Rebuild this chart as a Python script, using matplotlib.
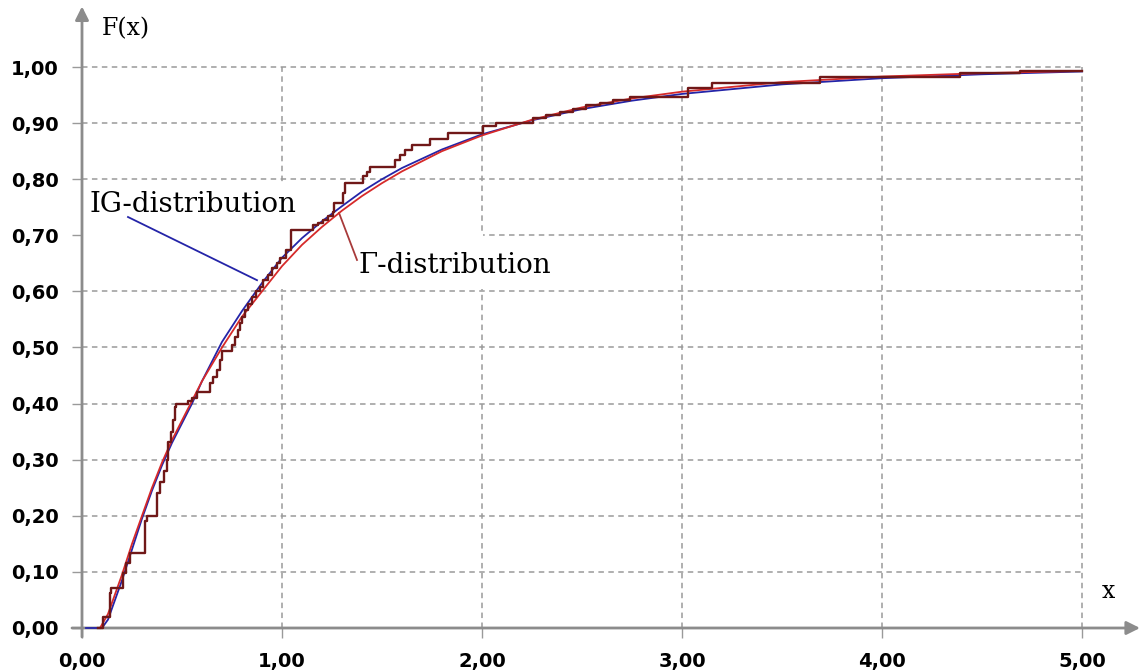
import matplotlib.pyplot as plt
from matplotlib.patches import Rectangle
from matplotlib.ticker import FuncFormatter, MultipleLocator

# IG-distribution curve
ig_x = [0.02, 0.10, 0.13, 0.16, 0.20, 0.25, 0.30, 0.35, 0.40, 0.45, 0.50, 0.55,
        0.60, 0.70, 0.80, 0.90, 1.00, 1.10, 1.20, 1.30, 1.40, 1.50, 1.60, 1.80,
        2.00, 2.25, 2.50, 2.75, 3.00, 3.50, 4.00, 4.50, 5.00]
ig_y = [0.0, 0.0, 0.015, 0.045, 0.085, 0.14, 0.195, 0.245, 0.29, 0.33, 0.365, 0.40,
        0.44, 0.51, 0.565, 0.615, 0.66, 0.695, 0.725, 0.752, 0.778, 0.80, 0.82, 0.853,
        0.88, 0.905, 0.925, 0.94, 0.952, 0.969, 0.98, 0.987, 0.992]

# Gamma-distribution curve
gam_x = [0.09, 0.13, 0.16, 0.20, 0.25, 0.30, 0.35, 0.40, 0.45, 0.50, 0.55, 0.60,
         0.70, 0.80, 0.90, 1.00, 1.10, 1.20, 1.30, 1.40, 1.50, 1.60, 1.80, 2.00,
         2.25, 2.50, 2.75, 3.00, 3.50, 4.00, 4.50, 5.00]
gam_y = [0.0, 0.025, 0.055, 0.095, 0.15, 0.20, 0.25, 0.295, 0.335, 0.37, 0.405, 0.44,
         0.50, 0.555, 0.60, 0.645, 0.683, 0.715, 0.744, 0.77, 0.793, 0.814, 0.85, 0.878,
         0.906, 0.928, 0.944, 0.956, 0.973, 0.983, 0.989, 0.993]

# empirical distribution function: x where each level starts, and the level
emp_x = [0.08, 0.107, 0.14, 0.145, 0.207, 0.22, 0.24, 0.315, 0.325, 0.373, 0.39,
         0.41, 0.423, 0.432, 0.445, 0.455, 0.465, 0.47, 0.532, 0.55, 0.573, 0.64,
         0.657, 0.673, 0.69, 0.70, 0.748, 0.765, 0.78, 0.79, 0.80, 0.815, 0.83,
         0.848, 0.87, 0.89, 0.907, 0.932, 0.948, 0.975, 0.99, 1.02, 1.045, 1.157,
         1.18, 1.207, 1.23, 1.257, 1.26, 1.307, 1.315, 1.407, 1.425, 1.44, 1.565,
         1.59, 1.615, 1.648, 1.74, 1.832, 2.007, 2.07, 2.257, 2.32, 2.39, 2.457,
         2.52, 2.59, 2.657, 2.74, 3.03, 3.15, 3.69, 4.39, 4.69, 5.00]
emp_y = [0.0, 0.02, 0.062, 0.072, 0.098, 0.116, 0.133, 0.19, 0.20, 0.24, 0.26,
         0.28, 0.30, 0.332, 0.35, 0.37, 0.394, 0.40, 0.405, 0.41, 0.42, 0.436,
         0.448, 0.46, 0.478, 0.493, 0.505, 0.519, 0.531, 0.543, 0.555, 0.567, 0.578,
         0.59, 0.60, 0.608, 0.62, 0.629, 0.641, 0.65, 0.66, 0.674, 0.709, 0.718,
         0.722, 0.727, 0.735, 0.742, 0.757, 0.775, 0.793, 0.805, 0.812, 0.822, 0.834,
         0.843, 0.852, 0.861, 0.872, 0.883, 0.894, 0.901, 0.909, 0.914, 0.92, 0.926,
         0.932, 0.936, 0.941, 0.946, 0.962, 0.972, 0.983, 0.989, 0.993, 0.993]

W, H = 1142, 672
fig = plt.figure(figsize=(W / 100, H / 100), dpi=100)
ax = fig.add_axes([82 / W, 44 / H, 1000 / W, 561 / H])
ax.set_xlim(0, 5)
ax.set_ylim(0, 1)

grey = '#8c8c8c'
gridgrey = '#9a9a9a'
for s in ax.spines.values():
    s.set_visible(False)

ax.xaxis.set_major_locator(MultipleLocator(1))
ax.yaxis.set_major_locator(MultipleLocator(0.1))
fmt = FuncFormatter(lambda v, p: f'{v:.2f}'.replace('.', ','))
ax.xaxis.set_major_formatter(fmt)
ax.yaxis.set_major_formatter(fmt)
ax.tick_params(length=7, width=1, color=gridgrey, direction='out', pad=10)
for lab in ax.get_xticklabels() + ax.get_yticklabels():
    lab.set_fontweight('bold')
    lab.set_fontsize(14)
    lab.set_color('black')

ax.set_axisbelow(True)
ax.grid(True, color=gridgrey, lw=1.1, linestyle=(0, (3.6, 2.9)))
for gl in ax.get_xgridlines() + ax.get_ygridlines():
    gl.set_clip_on(False)

# white boxes behind the labels hide some grid lines
ax.add_patch(Rectangle((0.005, 0.605), 1.32, 0.19, facecolor='white', edgecolor='none', zorder=1))
ax.add_patch(Rectangle((1.32, 0.605), 0.685, 0.098, facecolor='white', edgecolor='none', zorder=1))

# axes with arrows
ax.annotate('', xy=(5.29, 0), xytext=(-0.05, 0), annotation_clip=False,
            arrowprops=dict(arrowstyle='-|>', color=grey, lw=2, mutation_scale=20,
                            shrinkA=0, shrinkB=0))
ax.annotate('', xy=(0, 1.108), xytext=(0, -0.016), annotation_clip=False,
            arrowprops=dict(arrowstyle='-|>', color=grey, lw=2, mutation_scale=20,
                            shrinkA=0, shrinkB=0))

ax.plot(ig_x, ig_y, color='#2424a8', lw=1.3, zorder=3, clip_on=False)
ax.plot(gam_x, gam_y, color='#d62a2a', lw=1.3, zorder=4, clip_on=False)
ax.plot(emp_x, emp_y, color='#701818', lw=1.7, drawstyle='steps-post', zorder=5, clip_on=False)

# labels with leader lines
serif = 'DejaVu Serif'
ax.plot([0.23, 0.875], [0.7326, 0.620], color='#2424a8', lw=1.3, zorder=3)
ax.plot([1.285, 1.375], [0.740, 0.656], color='#a83a3a', lw=1.3, zorder=3)
ax.text(0.04, 0.7415, 'IG-distribution', family=serif, fontsize=20, va='baseline', zorder=6)
ax.text(1.38, 0.633, 'Γ-distribution', family=serif, fontsize=20, va='baseline', zorder=6)
ax.text(0.10, 1.057, 'F(x)', family=serif, fontsize=17, va='baseline')
ax.text(5.10, 0.0535, 'x', family=serif, fontsize=17, va='baseline')

fig.savefig('out.png', dpi=100)
